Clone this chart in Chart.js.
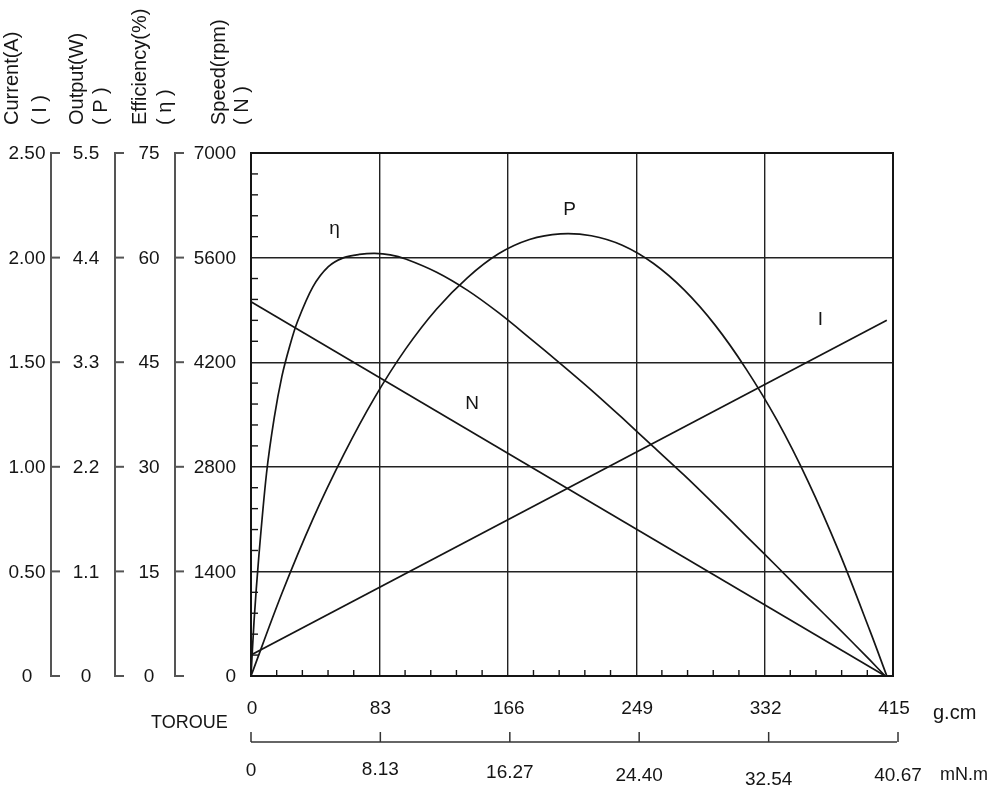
<!DOCTYPE html>
<html>
<head>
<meta charset="utf-8">
<script src="https://cdn.jsdelivr.net/npm/chart.js@4.4.0/dist/chart.umd.min.js"></script>
<style>
html,body{margin:0;padding:0;background:#fff;}
canvas{display:block;}
</style>
</head>
<body>
<canvas id="c" width="995" height="790"></canvas>
<script>
// ---------- tick labels ----------
const torqueGcmTicks = [0, 83, 166, 249, 332, 415];
const torqueMnmTicks = [0, 8.13, 16.27, 24.40, 32.54, 40.67];
const torqueMnmLabels = ['0', '8.13', '16.27', '24.40', '32.54', '40.67'];
const currentTicks = [0, 0.5, 1.0, 1.5, 2.0, 2.5];
const currentLabels = ['0', '0.50', '1.00', '1.50', '2.00', '2.50'];
const outputTicks = [0, 1.1, 2.2, 3.3, 4.4, 5.5];
const outputLabels = ['0', '1.1', '2.2', '3.3', '4.4', '5.5'];
const effTicks = [0, 15, 30, 45, 60, 75];
const speedTicks = [0, 1400, 2800, 4200, 5600, 7000];

// ---------- series (torque in g.cm) ----------
const speedTorque = [0, 410];
const speedValues = [5010, 0];

const currentTorque = [0, 411];
const currentValues = [0.10, 1.70];

const powerTorque = [0, 20, 40, 60, 80, 100, 120, 140, 160, 180, 200, 220, 240, 260, 280, 300, 320, 340, 360, 380, 400, 411];
const powerValues = [0, 0.87, 1.65, 2.33, 2.93, 3.44, 3.86, 4.19, 4.44, 4.59, 4.65, 4.63, 4.53, 4.34, 4.06, 3.69, 3.23, 2.69, 2.05, 1.31, 0.48, 0];

const effTorque = [0, 2, 5, 10, 15, 20, 25, 30, 40, 50, 60, 70, 80, 90, 100, 120, 140, 160, 180, 200, 220, 240, 260, 280, 300, 320, 340, 360, 380, 400, 410];
const effValues = [0, 8.0, 17.0, 29.0, 37.0, 43.0, 47.3, 50.8, 55.8, 58.7, 60.0, 60.45, 60.6, 60.4, 59.8, 57.9, 55.3, 52.1, 48.5, 44.8, 41.0, 37.0, 32.9, 28.8, 24.5, 20.1, 15.7, 11.2, 6.8, 2.3, 0];

// curve name labels, in data units (torque g.cm, speed rpm)
const curveNames = ['η', 'P', 'N', 'I'];
const curveNameTorque = [54, 206, 143, 368];
const curveNameSpeed = [5990, 6240, 3640, 4770];

function pts(xs, ys) { return xs.map((x, i) => ({ x: x, y: ys[i] })); }

const FONT = '"Liberation Sans", Arial, Helvetica, sans-serif';
const INK = '#151515';

const deco = {
  id: 'deco',
  afterDraw(chart) {
    const ctx = chart.ctx;
    const ca = chart.chartArea;
    const sx = chart.scales.x, sx2 = chart.scales.x2;
    const sN = chart.scales.yN, sI = chart.scales.yI, sP = chart.scales.yP, sE = chart.scales.yE;
    function seg(x1, y1, x2, y2) { ctx.beginPath(); ctx.moveTo(x1, y1); ctx.lineTo(x2, y2); ctx.stroke(); }
    ctx.save();

    // plot border
    ctx.strokeStyle = INK; ctx.lineWidth = 2;
    ctx.strokeRect(ca.left, ca.top, ca.right - ca.left, ca.bottom - ca.top);

    // minor ticks inside left and bottom
    ctx.lineWidth = 1.4;
    for (let i = 1; i < 25; i++) {
      if (i % 5 === 0) continue;
      const y = sN.getPixelForValue(i * 280);
      seg(ca.left, y, ca.left + 7, y);
      const x = sx.getPixelForValue(i * 16.6);
      seg(x, ca.bottom, x, ca.bottom - 6);
    }

    // left auxiliary axes
    ctx.fillStyle = INK;
    ctx.font = '19px ' + FONT;
    ctx.textBaseline = 'middle';
    function leftAxis(scale, ticks, labels, lineX, labelX, align) {
      ctx.strokeStyle = '#555'; ctx.lineWidth = 2;
      const yb = scale.getPixelForValue(ticks[0]);
      const yt = scale.getPixelForValue(ticks[ticks.length - 1]);
      seg(lineX, yb + 1, lineX, yt - 1);
      ticks.forEach((t, i) => {
        const y = scale.getPixelForValue(t);
        seg(lineX - 1, y, lineX + 9, y);
        ctx.textAlign = align;
        ctx.fillText(labels[i], labelX, y + 1);
      });
    }
    leftAxis(sI, currentTicks, currentLabels, 51, 27, 'center');
    leftAxis(sP, outputTicks, outputLabels, 115, 86, 'center');
    leftAxis(sE, effTicks, effTicks.map(String), 175, 149, 'center');
    ctx.textAlign = 'right';
    speedTicks.forEach(t => ctx.fillText(String(t), 236, sN.getPixelForValue(t) + 1));

    // rotated axis titles
    ctx.font = '20px ' + FONT;
    const titles = [['Current(A)', 12], ['( I )', 40], ['Output(W)', 77], ['( P )', 101],
                    ['Efficiency(%)', 140], ['( η )', 165], ['Speed(rpm)', 219], ['( N )', 242]];
    titles.forEach(([t, x]) => {
      ctx.save();
      ctx.translate(x, 125);
      ctx.rotate(-Math.PI / 2);
      ctx.textAlign = 'left';
      ctx.textBaseline = 'middle';
      ctx.fillText(t, 0, 0);
      ctx.restore();
    });

    // bottom g.cm labels
    ctx.font = '19px ' + FONT;
    ctx.textAlign = 'center'; ctx.textBaseline = 'middle';
    torqueGcmTicks.forEach(t => ctx.fillText(String(t), sx.getPixelForValue(t) + 1, 709));
    ctx.textAlign = 'left';
    ctx.font = '20px ' + FONT;
    ctx.fillText('g.cm', 933, 713);
    ctx.font = '18px ' + FONT;
    ctx.fillText('mN.m', 940, 775);
    ctx.fillText('TOROUE', 151, 723);

    // second torque axis (mN.m)
    ctx.strokeStyle = '#333'; ctx.lineWidth = 1.5;
    const axY = 742;
    const xa = sx2.getPixelForValue(torqueMnmTicks[0]);
    const xb = sx2.getPixelForValue(torqueMnmTicks[torqueMnmTicks.length - 1]);
    seg(xa, axY, xb + 4, axY);
    const labelDy = [771, 770, 773, 776, 780, 776];
    ctx.font = '19px ' + FONT;
    ctx.textAlign = 'center';
    torqueMnmTicks.forEach((t, i) => {
      const x = sx2.getPixelForValue(t) + i * 1;
      seg(x, axY, x, axY - 10);
      ctx.fillText(torqueMnmLabels[i], x, labelDy[i]);
    });

    // curve names
    ctx.font = '19px ' + FONT;
    ctx.textAlign = 'center';
    curveNames.forEach((n, i) => {
      ctx.fillText(n, sx.getPixelForValue(curveNameTorque[i]), sN.getPixelForValue(curveNameSpeed[i]));
    });

    ctx.restore();
  }
};

const lineStyle = { borderColor: INK, borderWidth: 1.7, pointRadius: 0, fill: false };

new Chart(document.getElementById('c'), {
  type: 'line',
  data: {
    datasets: [
      Object.assign({ label: 'N', data: pts(speedTorque, speedValues), yAxisID: 'yN', tension: 0 }, lineStyle),
      Object.assign({ label: 'I', data: pts(currentTorque, currentValues), yAxisID: 'yI', tension: 0 }, lineStyle),
      Object.assign({ label: 'P', data: pts(powerTorque, powerValues), yAxisID: 'yP', tension: 0.35 }, lineStyle),
      Object.assign({ label: 'η', data: pts(effTorque, effValues), yAxisID: 'yE', tension: 0.3 }, lineStyle)
    ]
  },
  options: {
    responsive: false,
    devicePixelRatio: 1,
    animation: false,
    layout: { padding: { left: 251, right: 102, top: 153, bottom: 114 } },
    plugins: { legend: { display: false }, tooltip: { enabled: false } },
    scales: {
      x: {
        type: 'linear', position: 'bottom', min: 0, max: 415,
        ticks: { display: false, stepSize: 83 },
        grid: { color: '#222', lineWidth: 1.4, drawTicks: false },
        border: { display: false },
        afterFit(s) { s.height = 0; }
      },
      x2: { type: 'linear', position: 'bottom', min: 0, max: 40.67, display: false },
      yN: {
        type: 'linear', position: 'left', min: 0, max: 7000,
        ticks: { display: false, stepSize: 1400 },
        grid: { color: '#222', lineWidth: 1.4, drawTicks: false },
        border: { display: false },
        afterFit(s) { s.width = 0; }
      },
      yI: { type: 'linear', position: 'left', min: 0, max: 2.5, display: false },
      yP: { type: 'linear', position: 'left', min: 0, max: 5.5, display: false },
      yE: { type: 'linear', position: 'left', min: 0, max: 75, display: false }
    }
  },
  plugins: [deco]
});
</script>
</body>
</html>
